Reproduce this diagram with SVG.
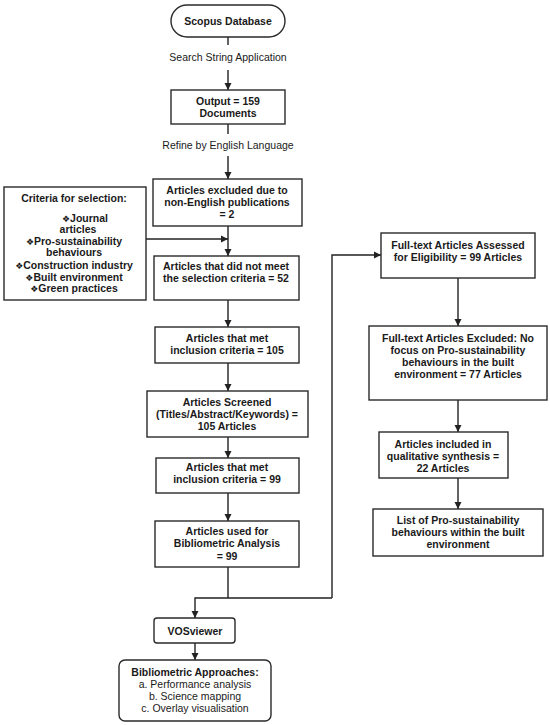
<svg xmlns="http://www.w3.org/2000/svg" width="550" height="725" viewBox="0 0 550 725">
<style>
.box{fill:#fff;stroke:#2a2a2a;stroke-width:1.4}
.b{font-family:"Liberation Sans",Arial,sans-serif;font-weight:bold;font-size:10.5px;fill:#1a1a1a;text-anchor:middle}
.r{font-family:"Liberation Sans",Arial,sans-serif;font-size:10.5px;fill:#1a1a1a;text-anchor:middle}
.ln{fill:none;stroke:#222;stroke-width:1.4}
.sym{font-family:"DejaVu Sans",sans-serif;font-weight:normal;font-size:9px}
</style>
<defs>
<marker id="ah" markerWidth="8" markerHeight="8" refX="7" refY="4" orient="auto" markerUnits="userSpaceOnUse">
<path d="M0,0.5 L7,4 L0,7.5 Z" fill="#222"/>
</marker>
</defs>
<rect width="550" height="725" fill="#fff"/>
<g id="connectors">
<line class="ln" x1="228" y1="37" x2="228" y2="45"/>
<line class="ln" x1="228" y1="70" x2="228" y2="90" marker-end="url(#ah)"/>
<line class="ln" x1="228" y1="124" x2="228" y2="134"/>
<line class="ln" x1="228" y1="156" x2="228" y2="179" marker-end="url(#ah)"/>
<line class="ln" x1="146" y1="239" x2="228" y2="239" marker-end="url(#ah)"/>
<line class="ln" x1="228" y1="226" x2="228" y2="256" marker-end="url(#ah)"/>
<line class="ln" x1="228" y1="300" x2="228" y2="327" marker-end="url(#ah)"/>
<line class="ln" x1="228" y1="363" x2="228" y2="391" marker-end="url(#ah)"/>
<line class="ln" x1="228" y1="437" x2="228" y2="458" marker-end="url(#ah)"/>
<line class="ln" x1="228" y1="493" x2="228" y2="521" marker-end="url(#ah)"/>
<line class="ln" x1="228" y1="567" x2="228" y2="598"/>
<path class="ln" d="M332,598 H195 V618" marker-end="url(#ah)"/>
<path class="ln" d="M332,598 V255 H381" marker-end="url(#ah)"/>
<line class="ln" x1="195" y1="643" x2="195" y2="660" marker-end="url(#ah)"/>
<line class="ln" x1="458" y1="278" x2="458" y2="326" marker-end="url(#ah)"/>
<line class="ln" x1="458" y1="400" x2="458" y2="432" marker-end="url(#ah)"/>
<line class="ln" x1="458" y1="478" x2="458" y2="509" marker-end="url(#ah)"/>
</g>
<g id="scopus">
<rect class="box" x="171" y="5" width="114" height="32" rx="16"/>
<text class="b" x="228" y="25">Scopus Database</text>
</g>
<g id="label-search">
<text class="r" x="228" y="61">Search String Application</text>
</g>
<g id="output">
<rect class="box" x="171" y="90" width="114" height="34"/>
<text class="b" x="228" y="105">Output = 159</text>
<text class="b" x="228" y="117">Documents</text>
</g>
<g id="label-refine">
<text class="r" x="228" y="149">Refine by English Language</text>
</g>
<g id="excluded">
<rect class="box" x="153" y="179" width="149" height="47"/>
<text class="b" x="227" y="194">Articles excluded due to</text>
<text class="b" x="227" y="206">non-English publications</text>
<text class="b" x="227" y="218">= 2</text>
</g>
<g id="criteria">
<rect class="box" x="4" y="187" width="142" height="113"/>
<text class="b" x="74" y="202">Criteria for selection:</text>
<text class="b" x="85" y="222"><tspan class="sym">❖</tspan>Journal</text>
<text class="b" x="78" y="233">articles</text>
<text class="b" x="74" y="245"><tspan class="sym">❖</tspan>Pro-sustainability</text>
<text class="b" x="74" y="256">behaviours</text>
<text class="b" x="74" y="269"><tspan class="sym">❖</tspan>Construction industry</text>
<text class="b" x="74" y="281"><tspan class="sym">❖</tspan>Built environment</text>
<text class="b" x="74" y="292"><tspan class="sym">❖</tspan>Green practices</text>
</g>
<g id="notmeet">
<rect class="box" x="154" y="256" width="145" height="44"/>
<text class="b" x="226" y="270">Articles that did not meet</text>
<text class="b" x="226" y="282">the selection criteria = 52</text>
</g>
<g id="met105">
<rect class="box" x="155" y="327" width="144" height="36"/>
<text class="b" x="227" y="342">Articles that met</text>
<text class="b" x="227" y="354">inclusion criteria = 105</text>
</g>
<g id="screened">
<rect class="box" x="147" y="391" width="161" height="46"/>
<text class="b" x="227" y="406">Articles Screened</text>
<text class="b" x="227" y="418">(Titles/Abstract/Keywords) =</text>
<text class="b" x="227" y="430">105 Articles</text>
</g>
<g id="met99">
<rect class="box" x="156" y="458" width="143" height="35"/>
<text class="b" x="227" y="471">Articles that met</text>
<text class="b" x="227" y="483">inclusion criteria = 99</text>
</g>
<g id="used">
<rect class="box" x="155" y="521" width="144" height="46"/>
<text class="b" x="227" y="535">Articles used for</text>
<text class="b" x="227" y="547">Bibliometric Analysis</text>
<text class="b" x="227" y="560">= 99</text>
</g>
<g id="vosviewer">
<rect class="box" x="154" y="618" width="81" height="25" rx="3"/>
<text class="b" x="195" y="635">VOSviewer</text>
</g>
<g id="approaches">
<rect class="box" x="119" y="660" width="152" height="61" rx="6"/>
<text class="b" x="195" y="676">Bibliometric Approaches:</text>
<text class="r" x="195" y="688">a. Performance analysis</text>
<text class="r" x="195" y="700">b. Science mapping</text>
<text class="r" x="195" y="712">c. Overlay visualisation</text>
</g>
<g id="assessed">
<rect class="box" x="381" y="233" width="154" height="45"/>
<text class="b" x="458" y="249">Full-text Articles Assessed</text>
<text class="b" x="458" y="261">for Eligibility = 99 Articles</text>
</g>
<g id="ftexcluded">
<rect class="box" x="369" y="326" width="178" height="74"/>
<text class="b" x="458" y="342">Full-text Articles Excluded: No</text>
<text class="b" x="458" y="354">focus on Pro-sustainability</text>
<text class="b" x="458" y="366">behaviours in the built</text>
<text class="b" x="458" y="378">environment = 77 Articles</text>
</g>
<g id="included">
<rect class="box" x="379" y="432" width="129" height="46"/>
<text class="b" x="443" y="448">Articles included in</text>
<text class="b" x="443" y="460">qualitative synthesis =</text>
<text class="b" x="443" y="472">22 Articles</text>
</g>
<g id="list">
<rect class="box" x="373" y="509" width="170" height="47"/>
<text class="b" x="458" y="524">List of Pro-sustainability</text>
<text class="b" x="458" y="536">behaviours within the built</text>
<text class="b" x="458" y="548">environment</text>
</g>
</svg>
